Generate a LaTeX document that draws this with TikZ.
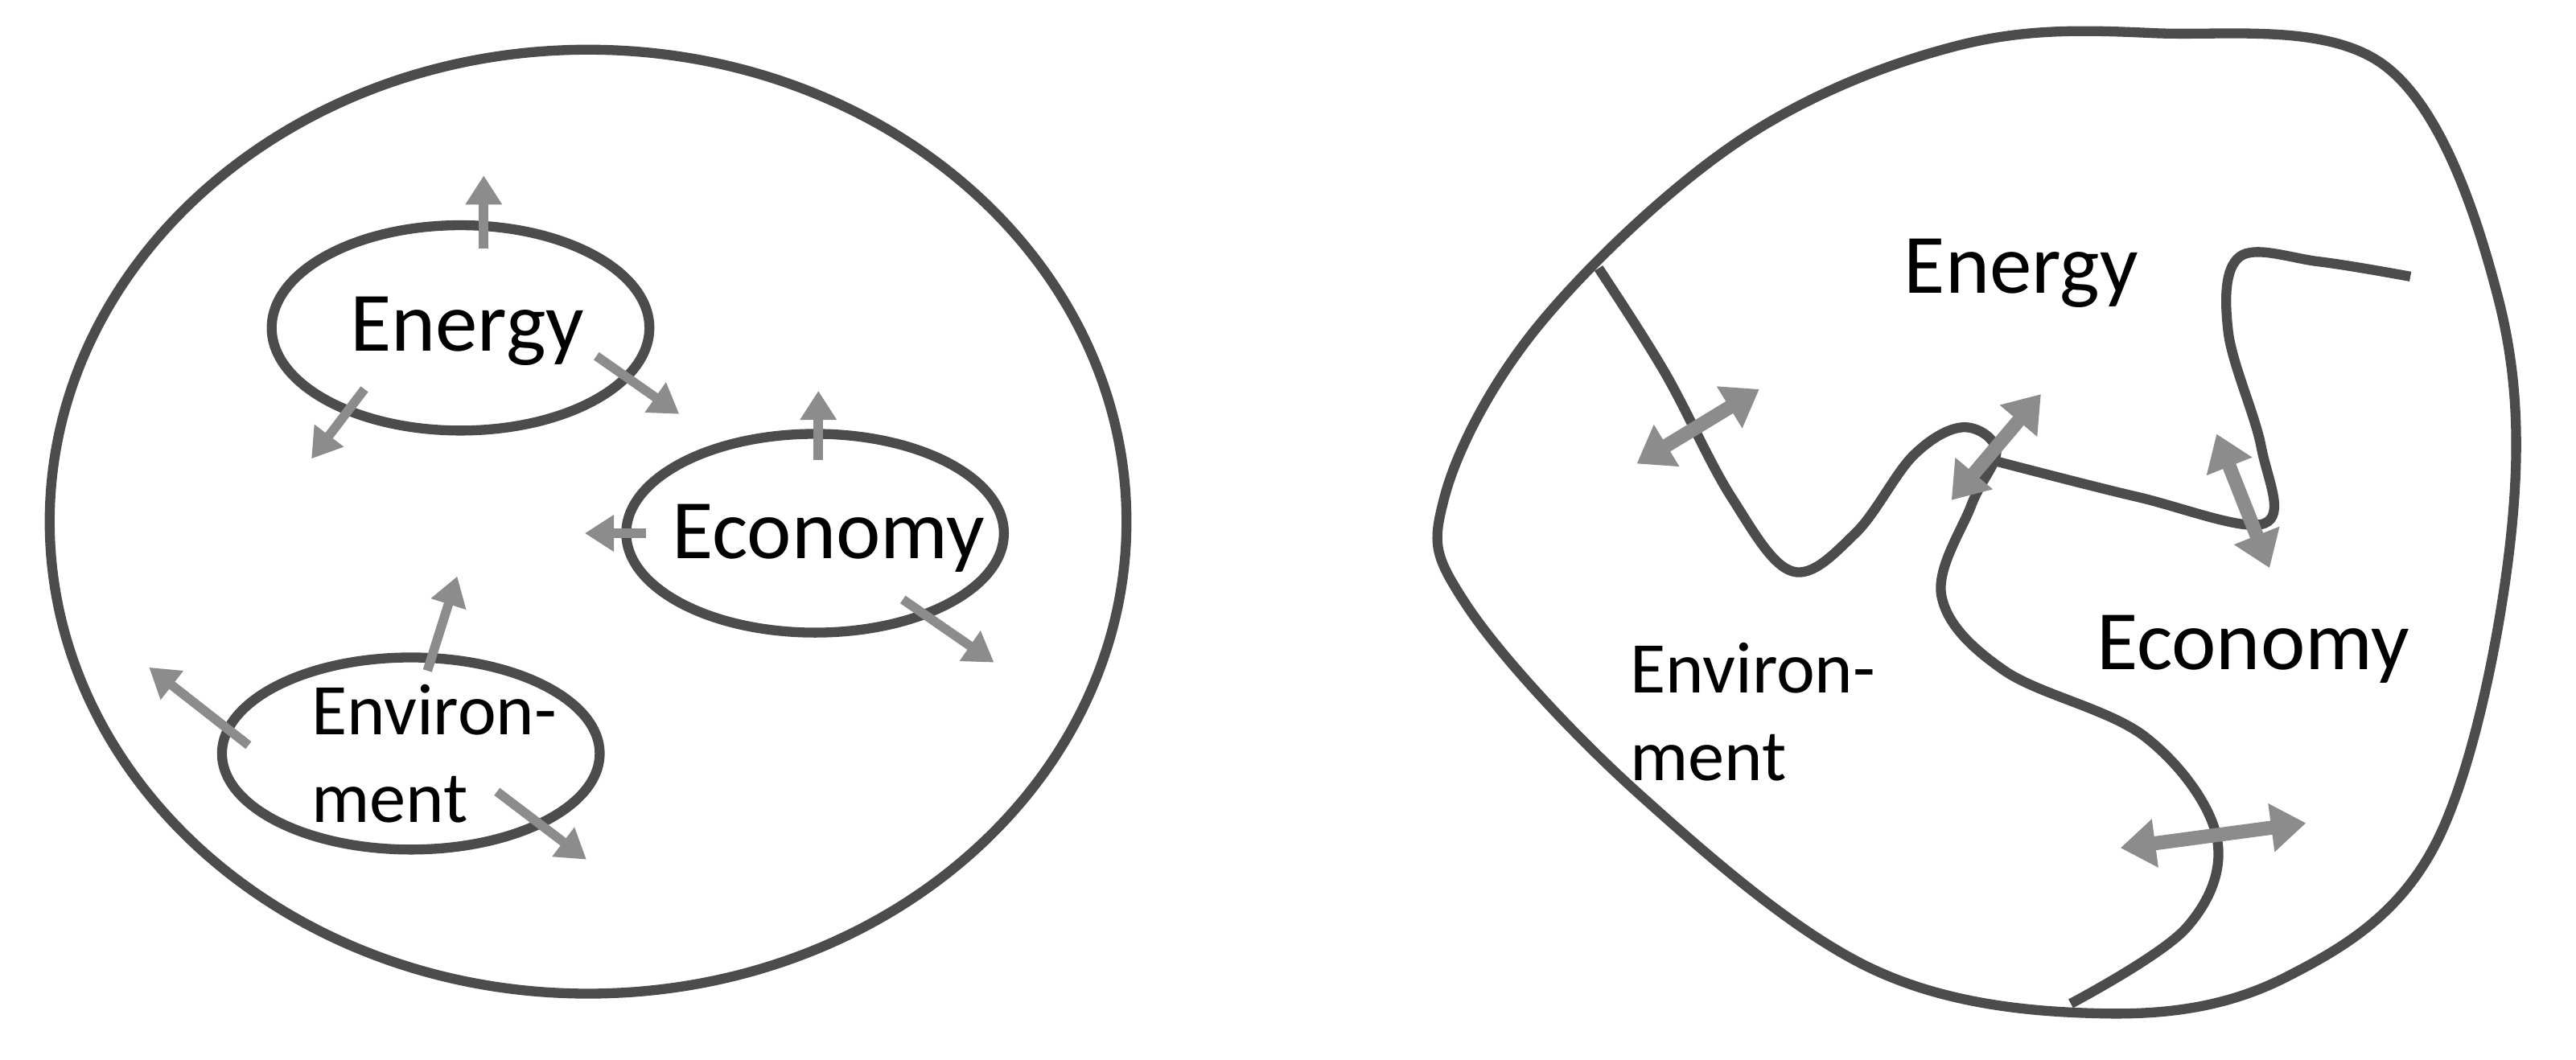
\documentclass[tikz,border=0pt]{standalone}
\usepackage{fontspec}
\setmainfont{Carlito}
\usetikzlibrary{arrows.meta}
\begin{document}
\begin{tikzpicture}[x=0.01cm,y=-0.01cm,
  line/.style={draw=black!70,line width=1.7pt},
  arr/.style={draw=black!45,line width=1.6pt,-{Triangle[length=5pt,width=6pt]}},
  darr/.style={draw=black!45,line width=2.4pt,{Triangle[length=6pt,width=8pt]}-{Triangle[length=6pt,width=8pt]}},
  lbl/.style={font=\fontsize{14.5}{17}\selectfont},
  slbl/.style={font=\fontsize{12.5}{15}\selectfont,align=left}]
\useasboundingbox (0,0) rectangle (1555,640);
% left
\draw[line] (355,315) ellipse [x radius=325,y radius=285];
\draw[line] (278,198) ellipse [x radius=114,y radius=62];
\draw[line] (492,322) ellipse [x radius=114,y radius=60];
\draw[line] (248,455) ellipse [x radius=114,y radius=58];
\node[lbl] (en) at (282,200) {Energy};
\node[lbl] (ec) at (500,325) {Economy};
\node[slbl] (env) at (262,455) {Environ-\\ment};
\coordinate (a1) at (292,150); \coordinate (b1) at (292,106);
\coordinate (a2) at (220,235); \coordinate (b2) at (188,277);
\coordinate (a3) at (360,215); \coordinate (b3) at (410,250);
\coordinate (a4) at (494,278); \coordinate (b4) at (494,236);
\coordinate (a5) at (390,322); \coordinate (b5) at (353,322);
\coordinate (a6) at (545,362); \coordinate (b6) at (600,400);
\coordinate (a7) at (258,405); \coordinate (b7) at (276,348);
\coordinate (a8) at (150,450); \coordinate (b8) at (90,403);
\coordinate (a9) at (300,478); \coordinate (b9) at (354,519);
\foreach \i in {1,...,9} \draw[arr] (a\i) -- (b\i);
% right
\draw[line] plot[smooth cycle,tension=0.6] coordinates {(872,300) (930,195) (1050,85) (1180,28) (1300,20) (1440,40) (1508,180) (1515,330) (1470,510) (1380,590) (1270,612) (1130,585) (990,480) (885,365)};
\draw[line] plot[smooth,tension=0.6] coordinates {(965,162) (1005,225) (1045,300) (1082,345) (1120,322) (1155,275) (1185,258) (1205,272) (1190,305) (1172,360) (1210,405) (1295,445) (1338,505) (1320,560) (1250,606)};
\draw[line] plot[smooth,tension=0.6] coordinates {(1203,278) (1290,300) (1367,316) (1365,270) (1345,200) (1352,155) (1400,158) (1455,167)};
\node[lbl] (en2) at (1220,165) {Energy};
\node[lbl] (ec2) at (1360,392) {Economy};
\node[slbl] (env2) at (1058,430) {Environ-\\ment};
\coordinate (c1) at (988,280); \coordinate (d1) at (1062,235);
\coordinate (c2) at (1178,302); \coordinate (d2) at (1232,238);
\coordinate (c3) at (1338,262); \coordinate (d3) at (1370,343);
\coordinate (c4) at (1280,512); \coordinate (d4) at (1392,497);
\foreach \i in {1,...,4} \draw[darr] (c\i) -- (d\i);
\end{tikzpicture}
\end{document}
